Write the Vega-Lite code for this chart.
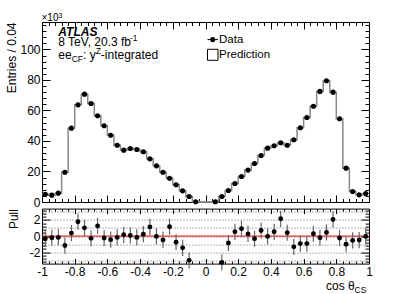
{
  "$schema": "https://vega.github.io/schema/vega-lite/v6.json",
  "background": "white",
  "padding": {"left": 4, "top": 11, "right": 2, "bottom": 0},
  "bounds": "flush",
  "spacing": 6.6,
  "config": {
    "font": "Liberation Sans",
    "view": {"stroke": "black", "strokeWidth": 1},
    "axis": {
      "domain": false, "grid": false, "tickColor": "black", "tickWidth": 1,
      "labelColor": "black", "labelFont": "Liberation Sans", "labelFontSize": 12,
      "labelFlush": false, "labelOverlap": false, "labelBound": false,
      "titleFont": "Liberation Sans", "titleFontSize": 12, "titleFontWeight": "normal", "titleColor": "black"
    },
    "text": {"font": "Liberation Sans", "color": "black"}
  },
  "datasets": {
    "bins": [
      {"c": -0.98, "lo": -1.00, "hi": -0.96, "data": 5.1, "pred": 5.1, "pull": -0.33, "perr": 1},
      {"c": -0.94, "lo": -0.96, "hi": -0.92, "data": 4.5, "pred": 4.5, "pull": -0.2, "perr": 1},
      {"c": -0.90, "lo": -0.92, "hi": -0.88, "data": 5.8, "pred": 5.8, "pull": -0.16, "perr": 1},
      {"c": -0.86, "lo": -0.88, "hi": -0.84, "data": 19.5, "pred": 19.5, "pull": -1.17, "perr": 1},
      {"c": -0.82, "lo": -0.84, "hi": -0.80, "data": 48.4, "pred": 48.4, "pull": 0.37, "perr": 1},
      {"c": -0.78, "lo": -0.80, "hi": -0.76, "data": 63.7, "pred": 63.7, "pull": 1.78, "perr": 1},
      {"c": -0.74, "lo": -0.76, "hi": -0.72, "data": 70.7, "pred": 70.7, "pull": 1.02, "perr": 1},
      {"c": -0.70, "lo": -0.72, "hi": -0.68, "data": 64.6, "pred": 64.6, "pull": -0.28, "perr": 1},
      {"c": -0.66, "lo": -0.68, "hi": -0.64, "data": 56.5, "pred": 56.5, "pull": 1.26, "perr": 1},
      {"c": -0.62, "lo": -0.64, "hi": -0.60, "data": 50.0, "pred": 50.0, "pull": -0.24, "perr": 1},
      {"c": -0.58, "lo": -0.60, "hi": -0.56, "data": 43.8, "pred": 43.8, "pull": -0.44, "perr": 1},
      {"c": -0.54, "lo": -0.56, "hi": -0.52, "data": 37.2, "pred": 37.2, "pull": -0.16, "perr": 1},
      {"c": -0.50, "lo": -0.52, "hi": -0.48, "data": 34.0, "pred": 34.0, "pull": 0.16, "perr": 1},
      {"c": -0.46, "lo": -0.48, "hi": -0.44, "data": 35.1, "pred": 35.1, "pull": 0.08, "perr": 1},
      {"c": -0.42, "lo": -0.44, "hi": -0.40, "data": 34.4, "pred": 34.4, "pull": -0.16, "perr": 1},
      {"c": -0.38, "lo": -0.40, "hi": -0.36, "data": 32.9, "pred": 32.9, "pull": 0.24, "perr": 1},
      {"c": -0.34, "lo": -0.36, "hi": -0.32, "data": 28.3, "pred": 28.3, "pull": 1.14, "perr": 1},
      {"c": -0.30, "lo": -0.32, "hi": -0.28, "data": 23.7, "pred": 23.7, "pull": -0.04, "perr": 1},
      {"c": -0.26, "lo": -0.28, "hi": -0.24, "data": 19.5, "pred": 19.5, "pull": -0.47, "perr": 1},
      {"c": -0.22, "lo": -0.24, "hi": -0.20, "data": 15.6, "pred": 15.6, "pull": 1.16, "perr": 1},
      {"c": -0.18, "lo": -0.20, "hi": -0.16, "data": 11.3, "pred": 11.3, "pull": -0.76, "perr": 1},
      {"c": -0.14, "lo": -0.16, "hi": -0.12, "data": 7.3, "pred": 7.3, "pull": -1.45, "perr": 1},
      {"c": -0.10, "lo": -0.12, "hi": -0.08, "data": 3.6, "pred": 3.6, "pull": -3.0, "perr": 1},
      {"c": -0.06, "lo": -0.08, "hi": -0.04, "data": 0.15, "pred": 0.2, "pull": null, "perr": 1},
      {"c": -0.02, "lo": -0.04, "hi": 0.00, "data": null, "pred": 0.0, "pull": null, "perr": 1},
      {"c": 0.02, "lo": 0.00, "hi": 0.04, "data": null, "pred": 0.0, "pull": null, "perr": 1},
      {"c": 0.06, "lo": 0.04, "hi": 0.08, "data": 0.15, "pred": 0.2, "pull": null, "perr": 1},
      {"c": 0.10, "lo": 0.08, "hi": 0.12, "data": 3.6, "pred": 3.6, "pull": -3.25, "perr": 1},
      {"c": 0.14, "lo": 0.12, "hi": 0.16, "data": 7.5, "pred": 7.5, "pull": -0.85, "perr": 1},
      {"c": 0.18, "lo": 0.16, "hi": 0.20, "data": 12.1, "pred": 12.1, "pull": 0.53, "perr": 1},
      {"c": 0.22, "lo": 0.20, "hi": 0.24, "data": 16.7, "pred": 16.7, "pull": 0.92, "perr": 1},
      {"c": 0.26, "lo": 0.24, "hi": 0.28, "data": 20.9, "pred": 20.9, "pull": 0.27, "perr": 1},
      {"c": 0.30, "lo": 0.28, "hi": 0.32, "data": 25.2, "pred": 25.2, "pull": -0.33, "perr": 1},
      {"c": 0.34, "lo": 0.32, "hi": 0.36, "data": 30.5, "pred": 30.5, "pull": 0.69, "perr": 1},
      {"c": 0.38, "lo": 0.36, "hi": 0.40, "data": 35.3, "pred": 35.3, "pull": -0.04, "perr": 1},
      {"c": 0.42, "lo": 0.40, "hi": 0.44, "data": 36.9, "pred": 36.9, "pull": 0.53, "perr": 1},
      {"c": 0.46, "lo": 0.44, "hi": 0.48, "data": 38.8, "pred": 38.8, "pull": 2.14, "perr": 1},
      {"c": 0.50, "lo": 0.48, "hi": 0.52, "data": 37.2, "pred": 37.2, "pull": 0.41, "perr": 1},
      {"c": 0.54, "lo": 0.52, "hi": 0.56, "data": 40.8, "pred": 40.8, "pull": -1.33, "perr": 1},
      {"c": 0.58, "lo": 0.56, "hi": 0.60, "data": 48.7, "pred": 48.7, "pull": -0.93, "perr": 1},
      {"c": 0.62, "lo": 0.60, "hi": 0.64, "data": 55.4, "pred": 55.4, "pull": -0.93, "perr": 1},
      {"c": 0.66, "lo": 0.64, "hi": 0.68, "data": 62.8, "pred": 62.8, "pull": 0.29, "perr": 1},
      {"c": 0.70, "lo": 0.68, "hi": 0.72, "data": 72.5, "pred": 72.5, "pull": -0.2, "perr": 1},
      {"c": 0.74, "lo": 0.72, "hi": 0.76, "data": 79.5, "pred": 79.5, "pull": 0.45, "perr": 1},
      {"c": 0.78, "lo": 0.76, "hi": 0.80, "data": 72.0, "pred": 72.0, "pull": 2.06, "perr": 1},
      {"c": 0.82, "lo": 0.80, "hi": 0.84, "data": 54.6, "pred": 54.6, "pull": -0.24, "perr": 1},
      {"c": 0.86, "lo": 0.84, "hi": 0.88, "data": 22.2, "pred": 22.2, "pull": -1.01, "perr": 1},
      {"c": 0.90, "lo": 0.88, "hi": 0.92, "data": 6.9, "pred": 6.9, "pull": -0.53, "perr": 1},
      {"c": 0.94, "lo": 0.92, "hi": 0.96, "data": 4.7, "pred": 4.7, "pull": -0.49, "perr": 1},
      {"c": 0.98, "lo": 0.96, "hi": 1.00, "data": 5.6, "pred": 5.6, "pull": -0.04, "perr": 1}
    ]
  },
  "vconcat": [
    {
      "width": 327,
      "height": 180,
      "layer": [
        {
          "data": {"name": "bins"},
          "mark": {"type": "line", "interpolate": "step-after", "color": "#888888", "strokeWidth": 1.5},
          "encoding": {
            "x": {"field": "lo", "type": "quantitative",
              "scale": {"domain": [-1, 1], "nice": false, "zero": false},
              "axis": {"orient": "bottom", "labels": false, "title": null,
                "values": [-1,-0.96,-0.92,-0.88,-0.84,-0.8,-0.76,-0.72,-0.68,-0.64,-0.6,-0.56,-0.52,-0.48,-0.44,-0.4,-0.36,-0.32,-0.28,-0.24,-0.2,-0.16,-0.12,-0.08,-0.04,0,0.04,0.08,0.12,0.16,0.2,0.24,0.28,0.32,0.36,0.4,0.44,0.48,0.52,0.56,0.6,0.64,0.68,0.72,0.76,0.8,0.84,0.88,0.92,0.96,1],
                "tickSize": {"condition": {"test": "abs(datum.value*5 - round(datum.value*5)) < 0.001", "value": -7}, "value": -3.5}}},
            "y": {"field": "pred", "type": "quantitative",
              "scale": {"domain": [0, 118], "nice": false, "zero": true},
              "axis": {"orient": "left",
                "values": [0,4,8,12,16,20,24,28,32,36,40,44,48,52,56,60,64,68,72,76,80,84,88,92,96,100,104,108,112,116],
                "labelExpr": "datum.value % 20 == 0 ? '' + datum.value : ''",
                "tickSize": {"condition": {"test": "datum.value % 20 == 0", "value": -8}, "value": -4},
                "labelPadding": 10,
                "title": "Entries / 0.04", "titleAngle": -90, "titleAlign": "right", "titleBaseline": "middle",
                "titleX": -31, "titleY": 0}}
          }
        },
        {
          "data": {"name": "bins"},
          "mark": {"type": "rule", "color": "#888888", "strokeWidth": 1.5},
          "encoding": {
            "x": {"field": "lo", "type": "quantitative",
              "scale": {"domain": [-1, 1], "nice": false, "zero": false},
              "axis": {"orient": "top", "labels": false, "title": null,
                "values": [-1,-0.96,-0.92,-0.88,-0.84,-0.8,-0.76,-0.72,-0.68,-0.64,-0.6,-0.56,-0.52,-0.48,-0.44,-0.4,-0.36,-0.32,-0.28,-0.24,-0.2,-0.16,-0.12,-0.08,-0.04,0,0.04,0.08,0.12,0.16,0.2,0.24,0.28,0.32,0.36,0.4,0.44,0.48,0.52,0.56,0.6,0.64,0.68,0.72,0.76,0.8,0.84,0.88,0.92,0.96,1],
                "tickSize": {"condition": {"test": "abs(datum.value*5 - round(datum.value*5)) < 0.001", "value": -7}, "value": -3.5}}},
            "x2": {"field": "hi"},
            "y": {"field": "pred", "type": "quantitative",
              "scale": {"domain": [0, 118], "nice": false, "zero": true},
              "axis": {"orient": "right", "labels": false, "title": null,
                "values": [0,4,8,12,16,20,24,28,32,36,40,44,48,52,56,60,64,68,72,76,80,84,88,92,96,100,104,108,112,116],
                "tickSize": {"condition": {"test": "datum.value % 20 == 0", "value": -8}, "value": -4}}}
          }
        },
        {
          "data": {"name": "bins"},
          "mark": {"type": "point", "filled": true, "color": "black", "opacity": 1, "size": 26},
          "encoding": {
            "x": {"field": "c", "type": "quantitative", "axis": null},
            "y": {"field": "data", "type": "quantitative", "axis": null}
          }
        },
        {
          "data": {"values": [{}]},
          "mark": {"type": "text", "align": "left", "baseline": "alphabetic", "fontSize": 10},
          "encoding": {"x": {"datum": -1.003, "axis": null}, "y": {"datum": 118.46, "axis": null}, "text": {"value": "×10"}}
        },
        {
          "data": {"values": [{}]},
          "mark": {"type": "text", "align": "left", "baseline": "alphabetic", "fontSize": 7},
          "encoding": {"x": {"datum": -0.899, "axis": null}, "y": {"datum": 120.75, "axis": null}, "text": {"value": "3"}}
        },
        {
          "data": {"values": [{}]},
          "mark": {"type": "text", "align": "left", "baseline": "alphabetic", "fontSize": 12, "fontWeight": "bold", "fontStyle": "italic"},
          "encoding": {"x": {"datum": -0.9003, "axis": null}, "y": {"datum": 109.0, "axis": null}, "text": {"value": "ATLAS"}}
        },
        {
          "data": {"values": [{}]},
          "mark": {"type": "text", "align": "left", "baseline": "alphabetic", "fontSize": 12},
          "encoding": {"x": {"datum": -0.9003, "axis": null}, "y": {"datum": 102.5, "axis": null}, "text": {"value": "8 TeV, 20.3 fb"}}
        },
        {
          "data": {"values": [{}]},
          "mark": {"type": "text", "align": "left", "baseline": "alphabetic", "fontSize": 8.5},
          "encoding": {"x": {"datum": -0.4617, "axis": null}, "y": {"datum": 105.8, "axis": null}, "text": {"value": "-1"}}
        },
        {
          "data": {"values": [{}]},
          "mark": {"type": "text", "align": "left", "baseline": "alphabetic", "fontSize": 12},
          "encoding": {"x": {"datum": -0.9003, "axis": null}, "y": {"datum": 94.0, "axis": null}, "text": {"value": "ee"}}
        },
        {
          "data": {"values": [{}]},
          "mark": {"type": "text", "align": "left", "baseline": "alphabetic", "fontSize": 8.5},
          "encoding": {"x": {"datum": -0.8187, "axis": null}, "y": {"datum": 91.6, "axis": null}, "text": {"value": "CF"}}
        },
        {
          "data": {"values": [{}]},
          "mark": {"type": "text", "align": "left", "baseline": "alphabetic", "fontSize": 12},
          "encoding": {"x": {"datum": -0.7494, "axis": null}, "y": {"datum": 94.0, "axis": null}, "text": {"value": ": y"}}
        },
        {
          "data": {"values": [{}]},
          "mark": {"type": "text", "align": "left", "baseline": "alphabetic", "fontSize": 8.5},
          "encoding": {"x": {"datum": -0.6719, "axis": null}, "y": {"datum": 97.2, "axis": null}, "text": {"value": "Z"}}
        },
        {
          "data": {"values": [{}]},
          "mark": {"type": "text", "align": "left", "baseline": "alphabetic", "fontSize": 12},
          "encoding": {"x": {"datum": -0.6401, "axis": null}, "y": {"datum": 94.0, "axis": null}, "text": {"value": "-integrated"}}
        },
        {
          "data": {"values": [{}]},
          "mark": {"type": "rule", "color": "black", "strokeWidth": 1},
          "encoding": {"x": {"datum": 0.0122, "axis": null}, "x2": {"datum": 0.0765}, "y": {"datum": 106.46, "axis": null}}
        },
        {
          "data": {"values": [{}]},
          "mark": {"type": "point", "filled": true, "color": "black", "opacity": 1, "size": 26},
          "encoding": {"x": {"datum": 0.0440, "axis": null}, "y": {"datum": 106.46, "axis": null}}
        },
        {
          "data": {"values": [{}]},
          "mark": {"type": "text", "align": "left", "baseline": "middle", "fontSize": 11.5},
          "encoding": {"x": {"datum": 0.0826, "axis": null}, "y": {"datum": 106.46, "axis": null}, "text": {"value": "Data"}}
        },
        {
          "data": {"values": [{}]},
          "mark": {"type": "rect", "fill": "white", "stroke": "black", "strokeWidth": 1},
          "encoding": {"x": {"datum": 0.0122, "axis": null}, "x2": {"datum": 0.0765}, "y": {"datum": 100.1, "axis": null}, "y2": {"datum": 92.9}}
        },
        {
          "data": {"values": [{}]},
          "mark": {"type": "text", "align": "left", "baseline": "middle", "fontSize": 11.5},
          "encoding": {"x": {"datum": 0.0826, "axis": null}, "y": {"datum": 96.5, "axis": null}, "text": {"value": "Prediction"}}
        }
      ],
      "resolve": {"axis": {"x": "independent", "y": "independent"}}
    },
    {
      "width": 327,
      "height": 55,
      "layer": [
        {
          "data": {"values": [{}]},
          "mark": {"type": "rule", "color": "#e00000", "strokeWidth": 1},
          "encoding": {
            "y": {"datum": 0, "type": "quantitative",
              "scale": {"domain": [-3.4, 3.4], "nice": false, "zero": false},
              "axis": {"orient": "left", "values": [-3,-2,-1,0,1,2,3], "grid": true, "gridDash": [1, 2], "gridColor": "#666666", "gridWidth": 1,
                "ticks": false, "labels": false, "domain": false, "title": null}}
          }
        },
        {
          "data": {"name": "bins"},
          "transform": [{"filter": "isValid(datum.pull)"}],
          "mark": {"type": "errorbar", "color": "#666666", "thickness": 1.2},
          "encoding": {
            "x": {"field": "c", "type": "quantitative",
              "scale": {"domain": [-1, 1], "nice": false, "zero": false},
              "axis": {"orient": "bottom", "title": null,
                "values": [-1,-0.96,-0.92,-0.88,-0.84,-0.8,-0.76,-0.72,-0.68,-0.64,-0.6,-0.56,-0.52,-0.48,-0.44,-0.4,-0.36,-0.32,-0.28,-0.24,-0.2,-0.16,-0.12,-0.08,-0.04,0,0.04,0.08,0.12,0.16,0.2,0.24,0.28,0.32,0.36,0.4,0.44,0.48,0.52,0.56,0.6,0.64,0.68,0.72,0.76,0.8,0.84,0.88,0.92,0.96,1],
                "labelExpr": "abs(datum.value*5 - round(datum.value*5)) < 0.001 ? replace(format(datum.value, '~g'), '\u2212', '-') : ''",
                "tickSize": {"condition": {"test": "abs(datum.value*5 - round(datum.value*5)) < 0.001", "value": -5}, "value": -2.5},
                "labelPadding": 7.5}},
            "y": {"field": "pull", "type": "quantitative",
              "scale": {"domain": [-3.4, 3.4], "nice": false, "zero": false},
              "axis": {"orient": "left",
                "values": [-3.2,-2.8,-2.4,-2,-1.6,-1.2,-0.8,-0.4,0,0.4,0.8,1.2,1.6,2,2.4,2.8,3.2],
                "labelExpr": "datum.value == 2 ? '2' : datum.value == 0 ? '0' : datum.value == -2 ? '-2' : ''",
                "tickSize": {"condition": {"test": "datum.value == 2 || datum.value == 0 || datum.value == -2", "value": -8}, "value": -4},
                "labelPadding": 10,
                "title": "Pull", "titleAngle": -90, "titleAlign": "right", "titleBaseline": "middle",
                "titleX": -29, "titleY": 0}},
            "yError": {"field": "perr"}
          }
        },
        {
          "data": {"name": "bins"},
          "transform": [{"filter": "isValid(datum.pull)"}],
          "mark": {"type": "point", "filled": true, "color": "black", "opacity": 1, "size": 24},
          "encoding": {
            "x": {"field": "c", "type": "quantitative",
              "scale": {"domain": [-1, 1], "nice": false, "zero": false},
              "axis": {"orient": "top", "labels": false, "title": null,
                "values": [-1,-0.96,-0.92,-0.88,-0.84,-0.8,-0.76,-0.72,-0.68,-0.64,-0.6,-0.56,-0.52,-0.48,-0.44,-0.4,-0.36,-0.32,-0.28,-0.24,-0.2,-0.16,-0.12,-0.08,-0.04,0,0.04,0.08,0.12,0.16,0.2,0.24,0.28,0.32,0.36,0.4,0.44,0.48,0.52,0.56,0.6,0.64,0.68,0.72,0.76,0.8,0.84,0.88,0.92,0.96,1],
                "tickSize": {"condition": {"test": "abs(datum.value*5 - round(datum.value*5)) < 0.001", "value": -5}, "value": -2.5}}},
            "y": {"field": "pull", "type": "quantitative",
              "scale": {"domain": [-3.4, 3.4], "nice": false, "zero": false},
              "axis": {"orient": "right", "labels": false, "title": null,
                "values": [-3.2,-2.8,-2.4,-2,-1.6,-1.2,-0.8,-0.4,0,0.4,0.8,1.2,1.6,2,2.4,2.8,3.2],
                "tickSize": {"condition": {"test": "datum.value == 2 || datum.value == 0 || datum.value == -2", "value": -8}, "value": -4}}}
          }
        },
        {
          "data": {"values": [{}]},
          "mark": {"type": "text", "align": "left", "baseline": "alphabetic", "fontSize": 12},
          "encoding": {"x": {"datum": 0.737, "axis": null}, "y": {"datum": -6.7, "axis": null}, "text": {"value": "cos θ"}}
        },
        {
          "data": {"values": [{}]},
          "mark": {"type": "text", "align": "left", "baseline": "alphabetic", "fontSize": 8.5},
          "encoding": {"x": {"datum": 0.912, "axis": null}, "y": {"datum": -7.07, "axis": null}, "text": {"value": "CS"}}
        }
      ],
      "resolve": {"axis": {"x": "independent", "y": "independent"}}
    }
  ]
}
